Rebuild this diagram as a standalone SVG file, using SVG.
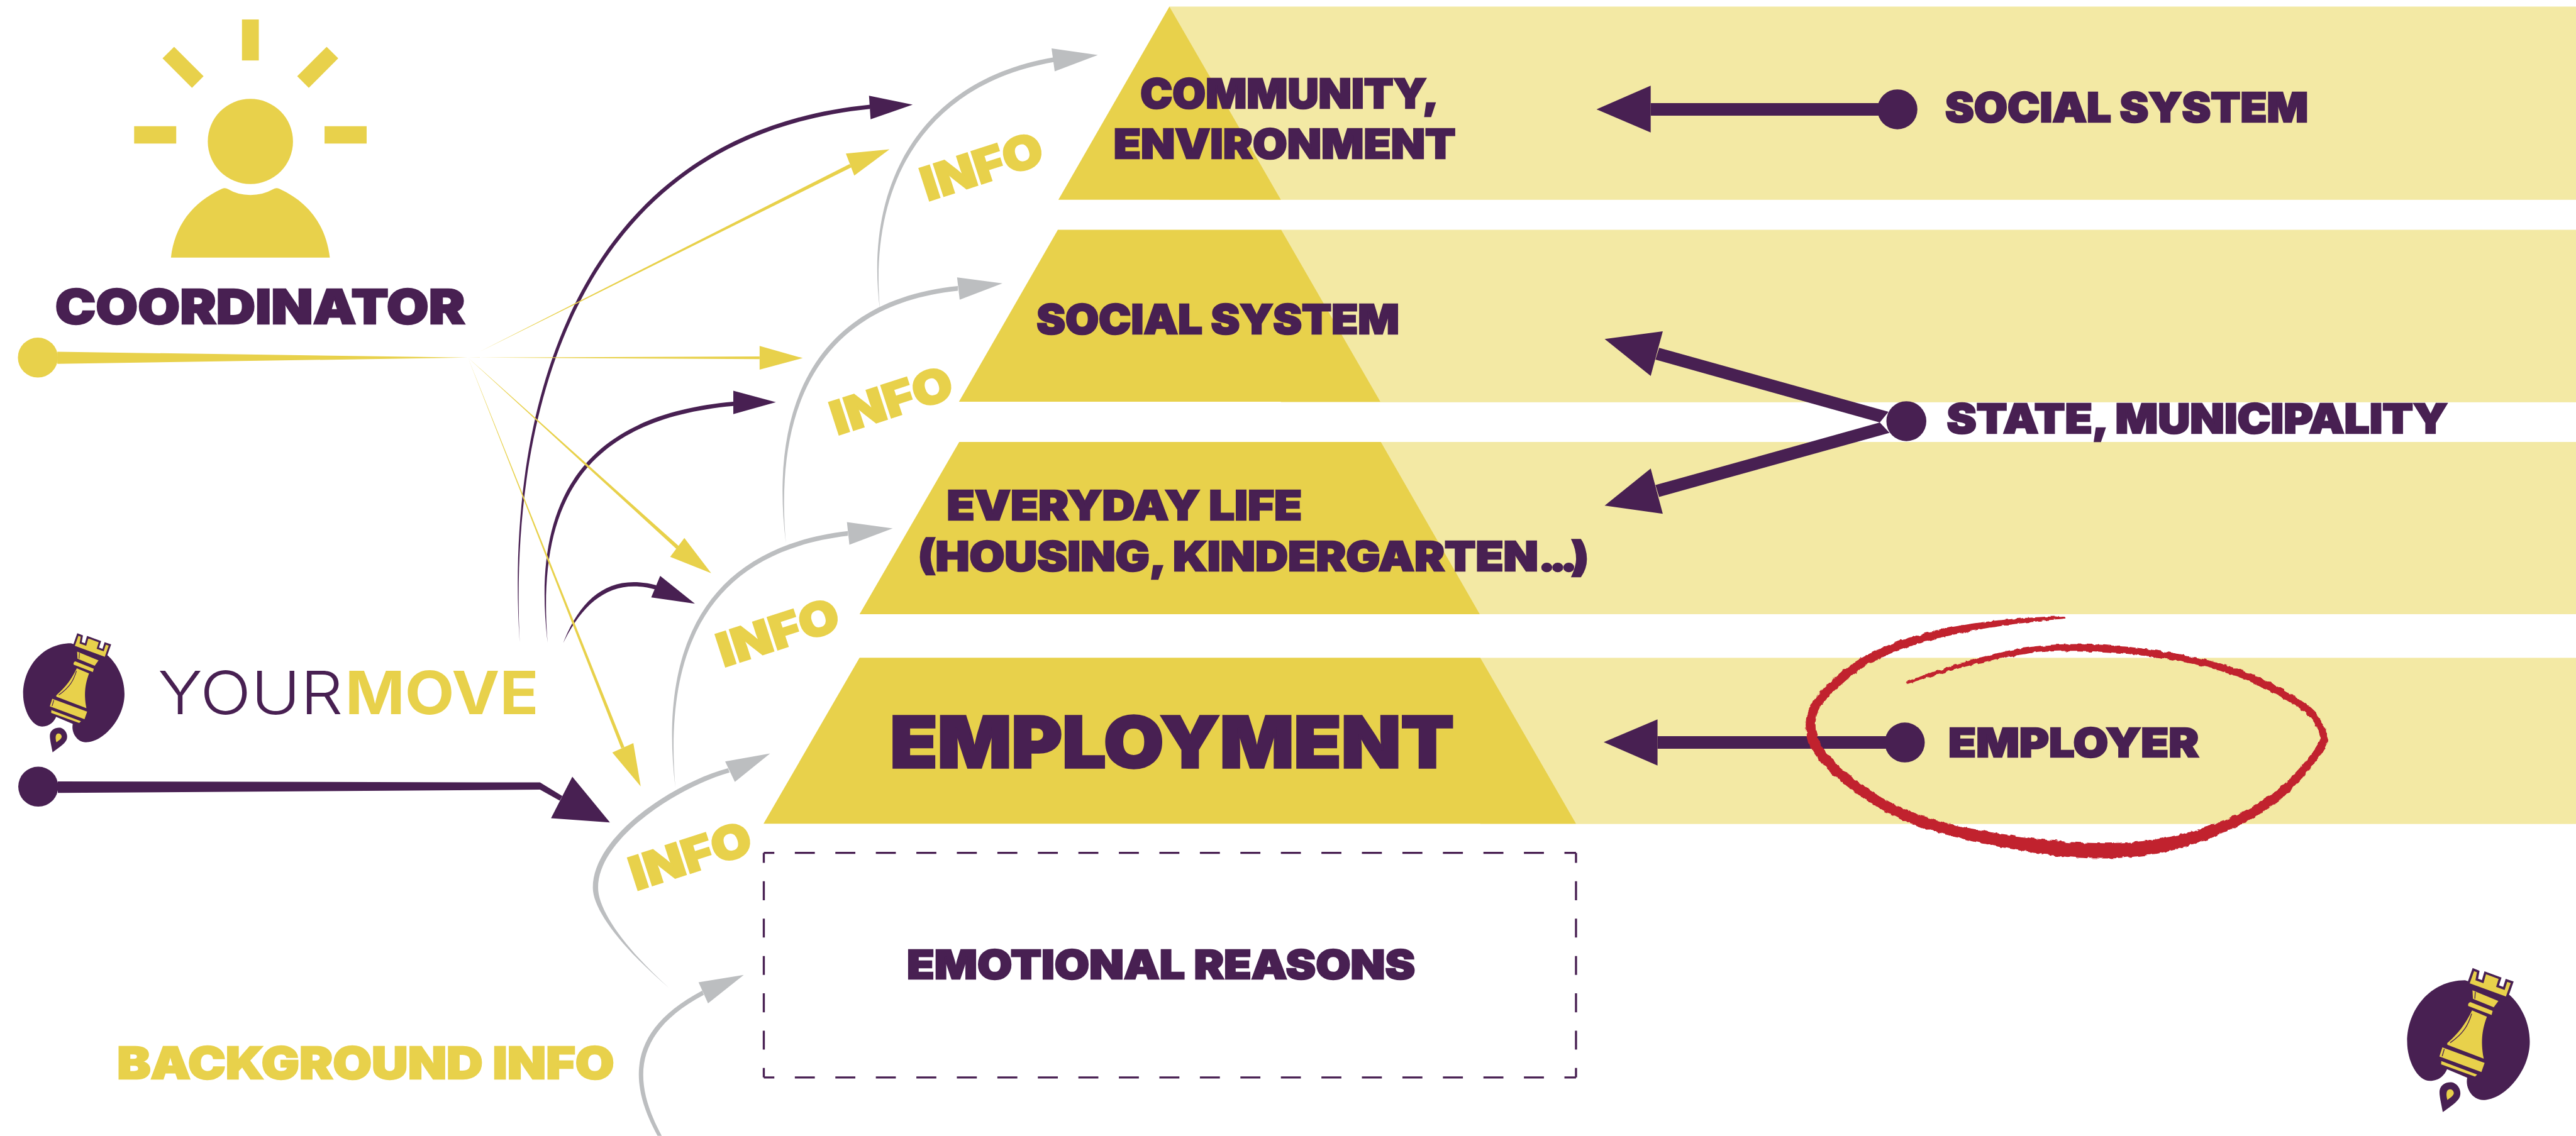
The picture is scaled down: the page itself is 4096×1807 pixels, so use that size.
<svg xmlns="http://www.w3.org/2000/svg" width="4096" height="1807" viewBox="0 0 4096 1807">
<style>
.y{fill:#E8D14B}.p{fill:#482052}.g{fill:#BCBEC0}.pale{fill:#F3E9A4}
text{font-family:Inter,"Liberation Sans",sans-serif;font-weight:900;fill:#482052;stroke:#482052;stroke-width:3}
.ty{fill:#E8D14B;stroke:#E8D14B}
.dash{fill:none;stroke:#482052;stroke-width:4}
.dh{stroke-dasharray:38 39;stroke-dashoffset:18}
.dv{stroke-dasharray:36 35;stroke-dashoffset:17}
</style>
<defs>
<filter id="brush" x="-5%" y="-5%" width="110%" height="110%">
<feTurbulence type="fractalNoise" baseFrequency="0.09" numOctaves="2" seed="4"/>
<feDisplacementMap in="SourceGraphic" scale="7" xChannelSelector="R" yChannelSelector="G"/>
</filter>
<g id="rocket">
<path class="p" d="M345 100C180 100 72 240 72 390C72 480 120 575 180 575C225 575 250 545 260 520L355 560C345 610 380 665 430 665C530 665 650 530 650 390C650 300 610 220 555 170L345 100Z"/>
<path class="y" stroke="#482052" stroke-width="11" d="M384 50L407 59L400 97L428 107L440 65L510 91L498 128L528 139L540 101L567 110L541 184L360 118Z"/>
<path class="y" d="M380 148L502 198L480 228L382 188Z"/>
<path class="p" d="M391 155L395 156L393 188L389 187Z"/>
<path class="y" d="M370 203L475 245L470 264L360 222Q356 208 370 203Z"/>
<path class="y" d="M378 243L448 272C430 320 415 380 433 470L262 405Q258 396 266 392C310 355 345 310 378 243Z"/>
<path fill="none" stroke="#482052" stroke-width="4" d="M376 258C360 310 340 350 275 395"/>
<path class="y" d="M238 417L437 490L422 533L224 460Z"/>
<path class="p" d="M245 424L249 425L239 459L235 458Z"/>
<path class="y" d="M233 481L402 545L392 555L232 497Z"/>
<path class="p" d="M240 722C232 680 222 640 225 620C230 590 260 578 285 582C315 590 330 625 320 650C310 675 270 700 240 722Z"/>
<path class="y" d="M262 665C257 650 255 630 262 620C272 610 290 615 292 632C292 645 275 655 262 665Z"/>
</g>
</defs>
<g transform="scale(0.83643)">
<g id="bands">
<rect class="pale" x="2223" y="12.5" width="2674" height="367.5"/>
<rect class="pale" x="2435" y="437" width="2462" height="328"/>
<rect class="pale" x="2625" y="840.5" width="2272" height="327.5"/>
<rect class="pale" x="2814" y="1251" width="2083" height="316"/>
</g>
<g id="node-community">
<path class="y" d="M2223 12.500L2012 380H2435Z"/>
<text x="2168" y="205.500" font-size="77" textLength="567" lengthAdjust="spacingAndGlyphs">COMMUNITY,</text>
<text x="2117" y="301.500" font-size="77" textLength="650" lengthAdjust="spacingAndGlyphs">ENVIRONMENT</text>
</g>
<g id="node-social">
<path class="y" d="M2011 437H2435.500L2624 764H1823Z"/>
<text x="1970.500" y="635" font-size="77" textLength="689.500" lengthAdjust="spacingAndGlyphs">SOCIAL SYSTEM</text>
</g>
<g id="node-everyday">
<path class="y" d="M1823.500 840.500H2625L2813 1168H1634Z"/>
<text x="1800" y="989" font-size="77" textLength="675" lengthAdjust="spacingAndGlyphs">EVERYDAY LIFE</text>
<text x="1745" y="1085" font-size="77" textLength="1275.500" lengthAdjust="spacingAndGlyphs">(HOUSING, KINDERGARTEN<tspan letter-spacing="-10">...</tspan>)</text>
</g>
<g id="node-employment">
<path class="y" d="M1634 1251H2814L2996 1566.500H1451.500Z"/>
<text x="1692" y="1460" font-size="135" textLength="1072" lengthAdjust="spacingAndGlyphs" style="stroke-width:4">EMPLOYMENT</text>
</g>
<g id="node-emotional">
<path class="dash dh" d="M1452 1622H2996"/>
<path class="dash dh" d="M1452 2049H2996"/>
<path class="dash dv" d="M1452 1622V2049"/>
<path class="dash dv" d="M2996 1622V2049"/>
<text x="1724" y="1861" font-size="76" textLength="966" lengthAdjust="spacingAndGlyphs">EMOTIONAL REASONS</text>
</g>
<g id="connectors">
<path class="g" d="M1673 591C1640 340 1760 150 2003 109L2003 118C1766 159 1650 340 1673 591Z"/>
<path class="g" d="M2087 104.600L1999 92L2005 135.700Z"/>
<path class="g" d="M1494 1033C1460 760 1560 570 1821 544L1821 553C1568 579 1470 760 1494 1033Z"/>
<path class="g" d="M1905.600 539L1819.400 527.600L1824.400 570Z"/>
<path class="g" d="M1284 1499C1250 1220 1350 1040 1612 1010L1612 1019C1358 1049 1260 1220 1284 1499Z"/>
<path class="g" d="M1697 1005L1610 993L1614.700 1036Z"/>
<path class="g" d="M1272 1879C1180 1800 1127 1730 1127 1688C1127 1590 1280 1489 1384 1461L1387 1469C1285 1498 1137 1596 1137 1688C1137 1730 1185 1800 1272 1879Z"/>
<path class="g" d="M1464 1433L1378.500 1448L1397 1487Z"/>
<path class="g" d="M1250 2160C1195 2060 1190 1960 1335 1884L1338 1892C1199 1966 1204 2060 1258 2160Z"/>
<path class="g" d="M1414 1854L1328 1868L1346 1908Z"/>

<path class="p" d="M988 1222C960 800 1080 256 1654 199L1654 207C1086 264 968 800 988 1222Z"/>
<path class="p" d="M1735 199L1652 182L1655 227Z"/>
<path class="p" d="M1041 1222C1010 960 1100 790 1394 764L1394 772C1106 798 1020 960 1041 1222Z"/>
<path class="p" d="M1475 765L1394 743L1394 787.500Z"/>
<path class="p" d="M1070.500 1223C1105 1135 1160 1090 1248 1113L1246 1121C1165 1099 1111 1141 1070.500 1223Z"/>
<path class="p" d="M1321 1148L1255 1095L1238 1136Z"/>

<path class="y" d="M889.500 680L1615 312L1619 318Z"/>
<path class="y" d="M1691 284L1608 292L1624 334Z"/>
<path class="y" d="M889.500 680L1444 678L1444 683Z"/>
<path class="y" d="M1526 681L1444 658L1444 703Z"/>
<path class="y" d="M889.500 680L1291 1039L1286 1044Z"/>
<path class="y" d="M1352 1090L1301 1023L1274 1059Z"/>
<path class="y" d="M889.500 680L1187 1421L1181 1423Z"/>
<path class="y" d="M1218 1495.500L1204 1413L1164 1431Z"/>

<path class="y" d="M109 669L889.500 680L109 692Z"/>
<path class="p" d="M110 1486L1026.500 1488L1069 1514L1064 1522.600L1026.500 1501.600L110 1508Z"/>
<path class="p" d="M1159.500 1564L1088 1477L1047.500 1556Z"/>

<path class="p" d="M3138 196H3607V220H3138Z"/>
<path class="p" d="M3035 208L3138 163V252Z"/>
<path class="p" d="M3154 661.500L3590 783L3573.500 803.500L3147 684Z"/>
<path class="p" d="M3050.500 644.700L3161 630L3138 715Z"/>
<path class="p" d="M3147 922.500L3573.500 803.500L3592 823L3154 945Z"/>
<path class="p" d="M3050.500 961.500L3138 891L3161 977Z"/>
<path class="p" d="M3151 1400H3621V1424H3151Z"/>
<path class="p" d="M3048.700 1411.500L3151 1368V1456Z"/>
</g>
<g id="node-social-system-label">
<circle class="p" cx="3607" cy="208" r="38"/>
<text x="3698" y="232.500" font-size="77" textLength="690" lengthAdjust="spacingAndGlyphs">SOCIAL SYSTEM</text>
</g>
<g id="node-state">
<circle class="p" cx="3624" cy="801" r="38"/>
<text x="3701" y="824" font-size="77" textLength="952" lengthAdjust="spacingAndGlyphs">STATE, MUNICIPALITY</text>
</g>
<g id="node-employer">
<circle class="p" cx="3621" cy="1412" r="38"/>
<text x="3704" y="1439" font-size="76" textLength="476" lengthAdjust="spacingAndGlyphs">EMPLOYER</text>
<path fill="#C1222F" stroke="#C1222F" stroke-width="5" stroke-linejoin="round" filter="url(#brush)" d="M3924 1174Q3757 1179 3654 1208Q3551 1237 3499 1282Q3447 1327 3438.500 1355Q3430 1384 3443 1416Q3456 1448 3513 1493.500Q3570 1539 3637.500 1565Q3705 1591 3833.500 1614Q3962 1637 4054.500 1627Q4147 1619 4235 1577.500Q4323 1538 4371.500 1481.500Q4420 1425 4422.500 1408Q4425 1391 4404.500 1362.500Q4384 1334 4301.500 1294.500Q4219 1255 4090.500 1238Q3962 1221 3870 1231.500Q3778 1242 3626 1298Q3780 1248 3871 1238.500Q3962 1229 4088.500 1246Q4215 1263 4295.500 1301.500Q4376 1340 4395.500 1365.500Q4415 1391 4412.500 1407Q4410 1423 4361.500 1475.500Q4313 1528 4228 1562.500Q4143 1597 4052.500 1604Q3962 1611 3835.500 1593Q3709 1575 3644.500 1551Q3580 1527 3525 1484.500Q3470 1442 3457 1413Q3444 1384 3451.500 1358.500Q3459 1333 3509 1290Q3559 1247 3659 1218Q3759 1189 3924 1174Z"/>
</g>
<g id="node-info-labels">
<text class="ty" transform="translate(1763 383) rotate(-18)" font-size="88" textLength="238" lengthAdjust="spacingAndGlyphs">INFO</text>
<text class="ty" transform="translate(1591.400 828) rotate(-18)" font-size="88" textLength="238" lengthAdjust="spacingAndGlyphs">INFO</text>
<text class="ty" transform="translate(1375.600 1269) rotate(-18)" font-size="88" textLength="238" lengthAdjust="spacingAndGlyphs">INFO</text>
<text class="ty" transform="translate(1209 1694) rotate(-18)" font-size="88" textLength="238" lengthAdjust="spacingAndGlyphs">INFO</text>
</g>
<g id="node-background">
<text class="ty" x="222.700" y="2052" font-size="84" textLength="945" lengthAdjust="spacingAndGlyphs">BACKGROUND INFO</text>
</g>
<g id="node-coordinator">
<rect class="y" x="460" y="37" width="32" height="78"/>
<path class="y" d="M331 89L309 111L365 167L387 145Z"/>
<path class="y" d="M621 89L643 111L587 167L565 145Z"/>
<rect class="y" x="255" y="240" width="80" height="33"/>
<rect class="y" x="617" y="240" width="80" height="33"/>
<circle class="y" cx="476" cy="269" r="81"/>
<path class="y" d="M325 490C332 430 365 385 422 359Q428 356 434 360Q452 371 476 371Q500 371 519 360Q525 356 531 359C588 385 620 430 627 490Z"/>
<text x="105" y="616" font-size="91" textLength="779" lengthAdjust="spacingAndGlyphs">COORDINATOR</text>
<circle class="y" cx="72" cy="680" r="38"/>
</g>
<g id="node-yourmove">
<use href="#rocket" transform="translate(20 1190) scale(0.3333)"/>
<text y="1358" font-size="113"><tspan x="300" textLength="352" lengthAdjust="spacingAndGlyphs" style="font-weight:300;stroke:none">YOUR</tspan><tspan class="ty" x="656" textLength="368" lengthAdjust="spacingAndGlyphs" style="font-weight:700;stroke:none">MOVE</tspan></text>
<circle class="p" cx="72.700" cy="1496" r="38"/>
</g>
<g id="node-logo">
<use href="#rocket" transform="translate(4547 1823.700) scale(0.4033)"/>
</g>
</g>
</svg>
